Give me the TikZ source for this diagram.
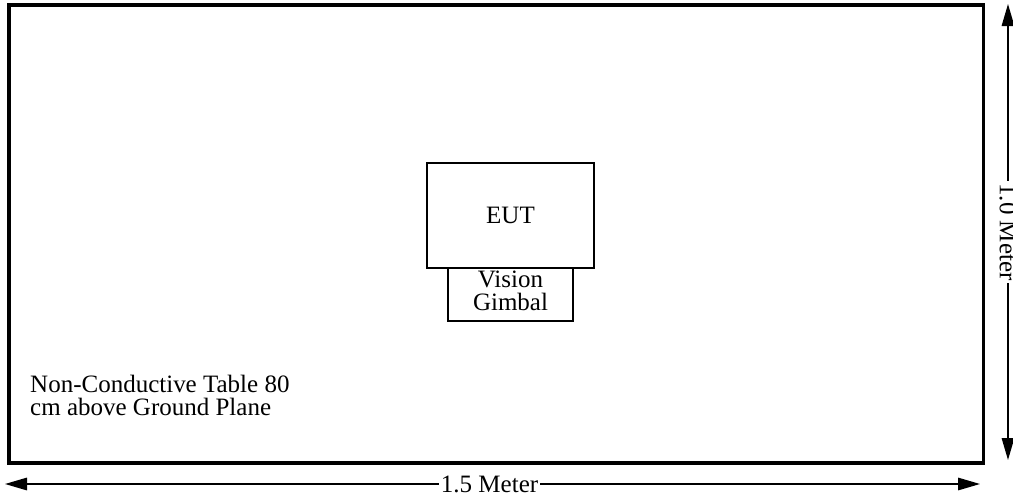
\documentclass[tikz,border=0pt]{standalone}
\usepackage{fontspec}
\setmainfont{Liberation Serif}
\usetikzlibrary{arrows.meta}
\begin{document}
\begin{tikzpicture}[x=1pt,y=-1pt,
  every node/.style={font=\fontsize{25}{23.3}\selectfont},
  thickbox/.style={draw, line width=3.3pt, inner sep=0pt},
  thinbox/.style={draw, line width=1.3pt, inner sep=0pt, fill=white},
  dimline/.style={line width=1.5pt, {Triangle[length=22pt,width=12.5pt]}-{Triangle[length=22pt,width=12.5pt]}},
  dimlabel/.style={fill=white, inner xsep=2pt, inner ysep=1pt}]
\useasboundingbox (0,0) rectangle (1013,501);
\clip (0,0) rectangle (1013,501);
\fill[white] (0,0) rectangle (1013,501);
% table
\node[thickbox, minimum width=974.5pt, minimum height=458pt] (table) at (496.25,234) {};
% EUT and gimbal
\node[thinbox, minimum width=125pt, minimum height=53pt] (gimbal) at (510.5,294.5) {};
\node[thinbox, minimum width=167pt, minimum height=105pt] (eut) at (510.5,215.5) {EUT};
\node[align=center, inner sep=0pt] (gimbaltext) at ([yshift=4pt]gimbal.center) {Vision\\Gimbal};
% table label
\node[align=left, anchor=north west, inner sep=0pt] (tablelabel) at (30,375) {Non-Conductive Table 80\\cm above Ground Plane};
% dimensions
\coordinate (hl) at (5,484);
\coordinate (hr) at (980,484);
\coordinate (vt) at (1008,4);
\coordinate (vb) at (1008,460);
\draw[dimline] (hl) -- (hr) node[dimlabel, pos=0.497] (hlabel) {1.5 Meter};
\draw[dimline] (vt) -- (vb) node[dimlabel, midway, rotate=-90] (vlabel) {1.0 Meter};
\end{tikzpicture}
\end{document}
